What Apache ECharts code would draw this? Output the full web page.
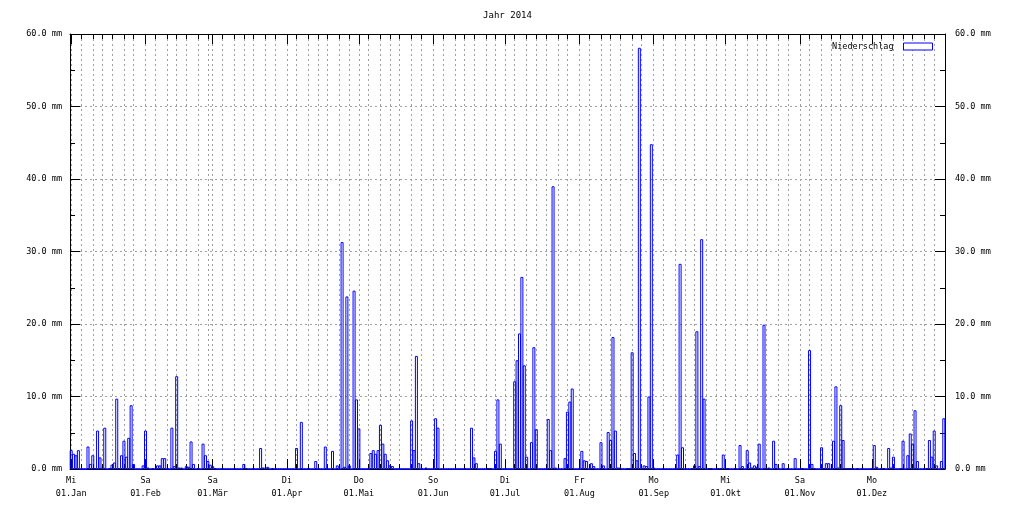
<!DOCTYPE html>
<html>
<head>
<meta charset="utf-8">
<script src="https://cdn.jsdelivr.net/npm/echarts@6/dist/echarts.min.js"></script>
<style>
html,body{margin:0;padding:0;background:#ffffff;}
#chart{width:1015px;height:507px;}
</style>
</head>
<body>
<div id="chart"></div>
<script>
// ---- data (daily precipitation in mm, 2014) ----
const chartTitle = 'Jahr 2014';
const seriesName = 'Niederschlag';
const unit = 'mm';

const jan = [2.6,2.1,1.9,2.6,0,0,0,3.1,0.7,1.9,0.1,5.3,1.6,0.2,5.7,0,0.1,0.6,0.9,9.7,0.1,1.9,3.9,1.7,4.3,8.8,0.7,0,0,0,0.5];
const feb = [5.3,0.2,0,0.1,0,0.5,0.5,1.5,1.5,0,0,5.7,0.4,12.8,0.2,0.2,0,0.4,0.3,3.8,0.7,0,0.1,0,3.5,1.9,1.1,0.6];
const mar = [0.4,0.1,0,0,0,0,0,0,0,0,0,0,0,0.7,0.1,0,0,0,0,0,2.9,0.2,0.2,0.3,0,0.1,0,0,0,0,0];
const apr = [0,0,0,0,2.9,0,6.5,0,0,0,0,0,1.1,0,0,0,3.1,0,0,2.5,0,0.5,0,31.3,0.3,23.8,0.5,0,24.6,9.6];
const may = [5.6,0,0,0,0,2.2,2.6,2.1,2.6,6.1,3.5,2.1,1.2,0.5,0.4,0,0,0,0,0,0,0,6.7,2.6,15.6,0.8,0,0,0.2,0,0];
const jun = [0,7.0,5.7,0,0,0,0,0,0,0,0,0,0,0,0,0,5.7,1.6,0.8,0,0,0,0,0.1,0.1,0,2.5,9.6,3.5,0];
const jul = [0,0,0,0,12.1,15.0,18.7,26.5,14.3,1.7,0,3.7,16.8,5.5,0,0,0,0,6.9,2.6,39.0,0.2,0,0,0,1.5,7.9,9.3,11.1,0,0];
const aug = [0,2.5,1.2,1.1,0,0.8,0.4,0,0,3.7,0.5,0,5.1,4.0,18.2,5.3,0.2,0.2,0,0,0.1,0.1,16.1,2.2,1.2,58.1,0.1,0.5,0.4,10.0,44.8];
const sep = [0.2,0,0,0,0,0,0,0,0,0,2.0,28.3,3.0,0,0,0,0.1,0.5,19.0,0.4,31.7,9.7,0,0.1,0.1,0,0,0.1,0.1,2.0];
const oct = [0.1,0.1,0,0,0.1,0,3.3,0.4,0,2.6,0.9,0.2,0.5,0.3,3.5,0,19.9,0.1,0.2,0,3.9,0.7,0,0,0.8,0,0.1,0,0,1.5,0];
const nov = [0,0.1,0,0,16.4,0.7,0.1,0,0,3.0,0.1,0.8,0.8,0,3.9,11.4,0.2,8.8,4.0,0.1,0.1,0.1,0.1,0,0.1,0,0,0,0,0];
const dec = [0.1,3.3,0.3,0,0.1,0.1,0,2.9,0.2,1.7,0,0,0.1,3.9,0,1.9,4.9,3.5,8.1,1.1,0,0,0,0.1,4.0,1.7,5.3,0.5,0,1.1,7.0];

const monthNames = ['Jan','Feb','Mär','Apr','Mai','Jun','Jul','Aug','Sep','Okt','Nov','Dez'];
const weekdayNames = ['So','Mo','Di','Mi','Do','Fr','Sa'];
const yMin = 0, yMax = 60, yStep = 10;

// ---- build ----
const months = [jan,feb,mar,apr,may,jun,jul,aug,sep,oct,nov,dec];
const rain = [].concat(...months);
const monthStart = [];
{ let acc = 0; months.forEach(m => { monthStart.push(acc); acc += m.length; }); }
const nDays = rain.length;
const dayLabels = rain.map((_, i) => {
  const dt = new Date(Date.UTC(2014, 0, 1 + i));
  return weekdayNames[dt.getUTCDay()] + '\n' + String(dt.getUTCDate()).padStart(2, '0') + '.' + monthNames[dt.getUTCMonth()];
});
const isMajor = new Array(nDays).fill(false);
monthStart.forEach(i => { isMajor[i] = true; });
const isMinor = new Array(nDays).fill(false);
const minorStep = 365.25 / 12 / 7;
monthStart.forEach(m => {
  for (let k = 1; k <= 6; k++) {
    const p = Math.round(m + k * minorStep);
    if (p < nDays && !isMajor[p]) isMinor[p] = true;
  }
});

const FONT = 'DejaVu Sans Mono';
const FS = 8.5;
const gridDash = { color: '#a0a0a0', width: 1, type: [2, 3] };

function xAx(pos, major, withLabels) {
  return {
    type: 'category', data: dayLabels, position: pos, gridIndex: 0,
    boundaryGap: true,
    axisLine: { show: major, lineStyle: { color: '#000', width: 1 } },
    axisTick: { show: true, inside: true, length: major ? 10 : 5, alignWithLabel: true,
      interval: (i) => major ? isMajor[i] : isMinor[i], lineStyle: { color: '#000', width: 1 } },
    axisLabel: { show: withLabels, interval: (i) => isMajor[i], margin: 5,
      fontFamily: FONT, fontSize: FS, color: '#000', lineHeight: 13 },
    splitLine: { show: withLabels, alignWithLabel: true,
      interval: (i) => isMajor[i] || isMinor[i], lineStyle: gridDash },
    splitArea: { show: false }
  };
}
function yAx(pos, withGrid) {
  return {
    type: 'value', position: pos, min: yMin, max: yMax, interval: yStep,
    axisLine: { show: true, lineStyle: { color: '#000', width: 1 } },
    axisTick: { show: true, inside: true, length: 10, lineStyle: { color: '#000' } },
    minorTick: { show: true, splitNumber: 2, length: 5, lineStyle: { color: '#000' } },
    axisLabel: { margin: pos === 'left' ? 8 : 10, fontFamily: FONT, fontSize: FS, color: '#000',
      formatter: v => v.toFixed(1) + ' ' + unit },
    splitLine: { show: withGrid, lineStyle: gridDash }
  };
}

const chart = echarts.init(document.getElementById('chart'), null, { renderer: 'canvas' });
chart.setOption({
  animation: false,
  backgroundColor: '#ffffff',
  title: { text: chartTitle, left: 'center', top: 6,
    textStyle: { fontFamily: FONT, fontSize: 9, fontWeight: 'normal', color: '#000' } },
  legend: {
    right: 77, top: 37, itemWidth: 29, itemHeight: 7, align: 'right', icon: 'rect',
    data: [{ name: seriesName, itemStyle: { color: '#ffffff', borderColor: '#0000ff', borderWidth: 1 } }],
    textStyle: { fontFamily: FONT, fontSize: FS, color: '#000', padding: [0, 5, 0, 0] }
  },
  grid: { left: 70, right: 70, top: 34, bottom: 38, outerBoundsMode: 'none', containLabel: false },
  xAxis: [xAx('bottom', true, true), xAx('bottom', false, false), xAx('top', true, false), xAx('top', false, false)],
  yAxis: [yAx('left', true), yAx('right', false)],
  series: [{
    name: seriesName, type: 'bar', xAxisIndex: 0, yAxisIndex: 0,
    data: rain, barWidth: 3, barGap: '0%',
    itemStyle: { color: 'rgba(0,0,0,0)', borderColor: '#0000ff', borderWidth: 1 },
    emphasis: { disabled: true }, silent: true
  }]
});
</script>
</body>
</html>
